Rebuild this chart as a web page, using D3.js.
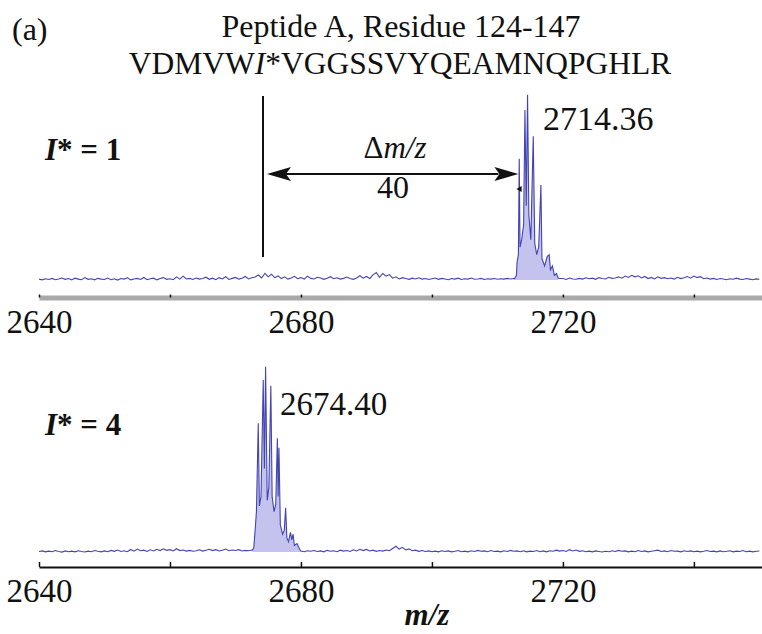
<!DOCTYPE html>
<html><head><meta charset="utf-8">
<script src="https://cdn.jsdelivr.net/npm/d3@7"></script>
<style>body{margin:0;background:#fff}svg{display:block}text{font-family:"Liberation Serif","Times New Roman",serif;fill:#111}</style>
</head><body>
<svg id="c" width="762" height="634"></svg>
<script>
// ---- data ----
const MZ_START = 2640, MZ_STEP = 0.5;
const tickValues = [2640, 2660, 2680, 2700, 2720, 2740];
const tickLabels = [2640, 2680, 2720];
const peakLabels = ["2714.36", "2674.40"];
const panelLabels = ["1", "4"];
const deltaLabel = "40";

const topNoise = [
1,0.6,1.2,0.8,1.4,0.7,1.1,1.6,0.9,1.3,0.6,1.5,1,0.7,1.8,0.9,1.2,0.6,1.4,1,
0.8,1.6,0.7,1.2,0.5,1.3,1,1.7,0.6,1.1,1.4,0.8,1.9,0.7,1.2,1.5,0.6,1.3,1.8,0.9,
1.2,0.7,2.2,1,2.6,1.1,1.4,0.8,1.6,1,1.3,2,0.9,1.5,0.7,1.8,1.1,2.3,0.8,1.4,
1.9,1,1.5,2.4,1.1,1.7,2.1,3.2,1.6,4.1,2.2,3.6,1.8,2.7,1.3,2.2,1,1.6,2.5,1.2,
1.8,1,2.6,1.4,1.1,2,1.6,0.9,1.5,2.3,1.2,1.7,1,1.4,2.1,1.3,0.9,1.6,2.8,1.5,
2.4,1.3,3.3,4.5,1.9,4,2.6,3.4,1.5,2.2,1.1,1.8,1.3,0.9,1.5,1.1,1.7,1,1.3,0.8,
1.2,1.6,0.9,1.4,1.1,0.7,1.3,1,1.5,0.8,1.2,1,1.6,0.9,1.1,1.4,0.8,1.2,1,1.3,
0.9,1.2,1,1.4,1.1,1.3,1.2,1,1.1,1.3,1,1.2,1.1,1,1.2,1.4,1.2,1,1.1,1.3,
1.3,0.8,1.6,1.1,0.9,1.4,1,1.7,1.2,1.5,0.9,1.8,1.3,1.1,2,1.4,1.6,2.2,1.5,2.6,
1.9,3,2.2,2.8,1.6,2.4,1.3,1.9,1.1,2.2,1.4,1.8,1.2,1.6,1,2,1.3,1.7,2.4,1.5,
2.6,1.8,2.3,1.2,1.6,1,1.4,0.8,1.3,1.1,0.7,1.2,0.9,1.5,1,0.8,1.3,1,0.7,1.1,0.9];

const bottomNoise = [
0.8,1.1,0.6,1,0.7,1.3,0.8,0.5,1.1,0.7,1,0.6,1.2,0.8,0.5,1,0.7,1.3,0.9,0.6,
1.1,0.7,1.4,0.9,1.6,0.8,1.2,0.7,1.9,1,2.1,1.2,1.5,0.8,1.7,1.1,2,1.3,2.2,1.4,
1.8,1.1,2.3,1.3,1.6,1,1.4,0.9,1.2,1.7,1,1.5,2,1.3,1.8,1.1,1.5,2.1,1.2,1.6,
1.3,1.8,1.1,1.4,1.2,1.6,1,1.2,1.1,1.3,1.2,1.1,1,1.2,1.1,1.3,1.2,1,1.4,1.2,
1.1,0.7,1.2,0.9,1.3,0.8,1.1,0.6,1.4,0.9,1.2,0.7,1.5,1,1.3,0.8,1.7,1.1,2,1.3,
1.9,1.1,1.5,0.9,1.3,1,1.6,1.2,2.4,3.6,2.1,3,1.6,2.2,1.2,1.5,0.9,1.3,0.8,1.1,
0.7,1,0.6,1.2,0.8,1.1,0.6,0.9,1.3,0.7,1,0.6,1.2,0.8,1.4,0.9,1.1,0.7,1.3,0.8,
1,0.6,1.2,0.8,1.4,0.9,1.1,0.7,1.2,0.6,1,0.8,1.3,0.7,1.1,0.6,1.2,0.9,1.5,1,
1.3,0.8,1.8,1.1,1.6,0.9,1.2,0.7,1,0.6,1.1,0.8,0.5,0.9,0.7,1.2,0.8,1.4,0.9,1.1,
0.6,1,0.7,1.3,0.8,1.1,0.6,0.9,1.2,1.5,0.8,1.1,0.7,1.3,0.9,1,0.6,1.2,0.8,1.1,
0.7,1,0.6,0.9,1.3,0.8,1,0.6,1.1,0.7,0.9,1.2,0.6,1,0.8,1.3,0.7,1,0.6,0.9,1.1];

const topPeakMz  = [2712.6,2712.9,2713.0,2713.2,2713.33,2713.45,2713.7,2714.0,2714.2,2714.4,2714.6,2714.8,2715.1,2715.47,2715.7,2716.0,2716.3,2716.64,2716.8,2717.2,2717.6,2717.9,2718.1,2718.4,2718.7,2719.0,2719.3];
const topPeakInt = [1.2,3,10,14,65,18,22,30,91,40,99,35,22,77,20,14,18,51,12,8,13,14,6,8,3,4,1.5];

const bottomPeakMz  = [2672.6,2672.8,2673.0,2673.2,2673.48,2673.65,2673.9,2674.24,2674.42,2674.6,2674.85,2675.1,2675.4,2675.6,2675.9,2676.15,2676.4,2676.52,2676.64,2676.85,2677.2,2677.45,2677.66,2677.85,2678.1,2678.4,2678.6,2678.8,2679.0,2679.4,2679.8,2680.0];
const bottomPeakInt = [1.5,3,12,22,69,25,30,92,45,99,28,35,89,30,22,26,61,30,56,15,10,12,24,8,6,11,7,10,4,5,2,1];

// ---- drawing ----
const svg = d3.select("#c");
svg.append("rect").attr("width",762).attr("height",634).attr("fill","#fff");
const x = d3.scaleLinear().domain([2640, 2750.4]).range([39, 762]);

function build(noise, pmz, pint){
  const lo = d3.min(pmz), hi = d3.max(pmz);
  const pts = noise.map((v,i)=>({mz: MZ_START + i*MZ_STEP, v}))
    .filter(d => d.mz < lo || d.mz > hi);
  const peak = pmz.map((m,i)=>({mz:m, v:pint[i]}));
  return {all: pts.concat(peak).sort((a,b)=>a.mz-b.mz), peak};
}

function panel(noise, pmz, pint, y0, axisY, gray){
  const y = d3.scaleLinear().domain([0,100]).range([y0, y0-188]);
  const d = build(noise, pmz, pint);
  svg.append("path").datum(d.peak)
    .attr("d", d3.area().x(p=>x(p.mz)).y0(y(0.5)).y1(p=>y(p.v)))
    .attr("fill","#c3c3ee");
  svg.append("path").datum(d.all)
    .attr("d", d3.line().x(p=>x(p.mz)).y(p=>y(p.v)))
    .attr("fill","none").attr("stroke","#4343b3").attr("stroke-width",1.1);
  const ax = d3.axisBottom(x).tickValues(tickValues)
    .tickFormat(v => tickLabels.includes(v) ? String(v) : "")
    .tickSizeInner(gray ? -3 : -5).tickSizeOuter(0).tickPadding(12);
  const g = svg.append("g").attr("transform",`translate(0,${axisY})`).call(ax);
  g.select(".domain").attr("stroke", gray ? "#a9a9a9" : "#111").attr("stroke-width", gray ? 5 : 2.2);
  g.selectAll(".tick line").attr("stroke","#111").attr("stroke-width",1.5);
  g.selectAll(".tick text").attr("font-size",33).attr("fill","#111")
    .attr("y",35).attr("dy",0);
  return y;
}

const yTop = panel(topNoise, topPeakMz, topPeakInt, 281, 297.5, true);
const yBot = panel(bottomNoise, bottomPeakMz, bottomPeakInt, 553, 567, false);

// titles
svg.append("text").attr("x",12).attr("y",40).attr("font-size",32).text("(a)");
svg.append("text").attr("x",401).attr("y",37).attr("font-size",32).attr("text-anchor","middle").text("Peptide A, Residue 124-147");
const seq = svg.append("text").attr("x",400).attr("y",74).attr("font-size",31.5).attr("text-anchor","middle");
seq.append("tspan").text("VDMVW");
seq.append("tspan").attr("font-style","italic").text("I");
seq.append("tspan").text("*VGGSSVYQEAMNQPGHLR");

// panel labels
function ilabel(yb, val){
  const t = svg.append("text").attr("x",45).attr("y",yb).attr("font-size",31).attr("font-weight","bold");
  t.append("tspan").attr("font-style","italic").text("I");
  t.append("tspan").text("* = " + val);
}
ilabel(160, panelLabels[0]);
ilabel(435, panelLabels[1]);

// peak labels
svg.append("text").attr("x",543).attr("y",130).attr("font-size",34).text(peakLabels[0]);
svg.append("text").attr("x",280).attr("y",415).attr("font-size",33).text(peakLabels[1]);

// delta annotation
const xl = x(2674.2), xr = x(2713.2), ay = 174;
svg.append("line").attr("x1",xl).attr("x2",xl).attr("y1",96).attr("y2",257).attr("stroke","#111").attr("stroke-width",2);
svg.append("line").attr("x1",xl+20).attr("x2",xr-20).attr("y1",ay).attr("y2",ay).attr("stroke","#111").attr("stroke-width",2);
svg.append("path").attr("d",`M${xl+4},${ay} L${xl+28},${ay-7} L${xl+23},${ay} L${xl+28},${ay+7} Z`).attr("fill","#111");
svg.append("path").attr("d",`M${xr},${ay} L${xr-24},${ay-7} L${xr-19},${ay} L${xr-24},${ay+7} Z`).attr("fill","#111");
const dl = svg.append("text").attr("x",395).attr("y",158).attr("font-size",31).attr("text-anchor","middle");
dl.append("tspan").text("Δ");
dl.append("tspan").attr("font-style","italic").text("m/z");
svg.append("text").attr("x",393).attr("y",198).attr("font-size",32).attr("text-anchor","middle").text(deltaLabel);
svg.append("path").attr("d",`M${x(2712.9)},189 L${x(2713.7)},186 L${x(2713.7)},192 Z`).attr("fill","#111");

// x label
svg.append("text").attr("x",427).attr("y",625).attr("font-size",31).attr("text-anchor","middle").attr("font-style","italic").attr("font-weight","bold").text("m/z");
</script>
</body></html>
